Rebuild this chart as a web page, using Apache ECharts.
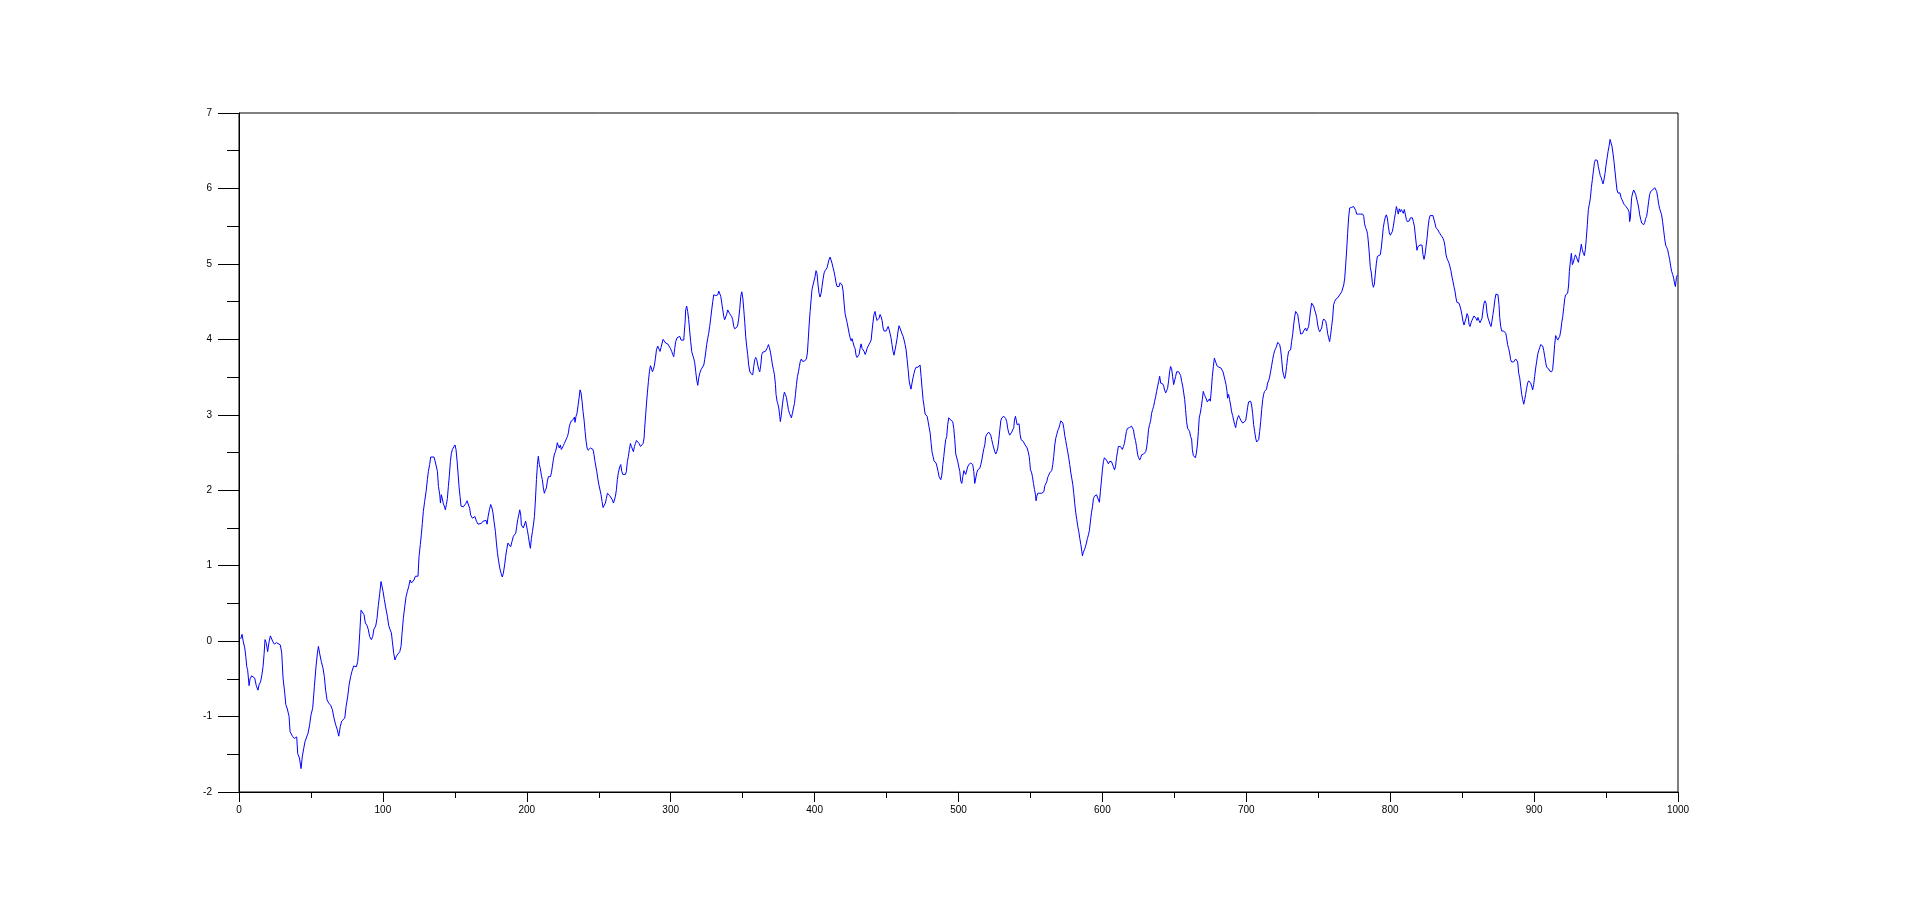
<!DOCTYPE html>
<html>
<head>
<meta charset="utf-8">
<title>random walk</title>
<script src="https://cdn.jsdelivr.net/npm/echarts@6/dist/echarts.min.js"></script>
<style>
  html, body {
    margin: 0;
    padding: 0;
    background: #ffffff;
  }
  #chart {
    width: 1918px;
    height: 906px;
  }
</style>
</head>
<body>
<div id="chart"></div>
<script>
// x positions of the read points (step number)
const steps = [
  1.2,2.1,3.0,4.0,4.7,5.4,6.0,7.0,7.7,8.8,
  10.0,10.9,12.0,13.2,13.9,15.0,15.8,16.7,17.4,18.1,
  19.0,19.9,20.9,21.8,22.7,23.6,24.6,26.0,27.3,28.7,
  29.7,30.6,31.8,32.5,33.6,34.8,35.5,37.1,38.5,39.4,
  40.1,40.8,42.0,43.1,44.0,45.0,45.9,47.0,48.0,49.1,
  50.0,51.2,52.4,53.5,54.5,55.2,56.0,57.2,58.4,59.3,
  60.2,61.2,62.3,63.7,64.9,66.0,67.2,68.4,69.3,70.4,
  71.4,72.5,73.5,74.4,75.5,76.5,77.6,78.5,79.7,80.6,
  81.6,82.5,83.2,83.9,84.8,85.7,86.9,87.8,88.9,89.9,
  90.8,92.0,92.9,93.8,95.0,95.9,96.8,97.8,98.7,99.4,
  100.1,101.0,102.0,103.1,104.0,105.0,105.9,106.6,107.5,108.4,
  109.4,110.5,111.7,112.6,113.3,114.2,115.2,116.1,117.0,117.9,
  118.9,119.8,120.7,121.6,122.6,
  // 123 - 247
  123.5,124.4,125.1,126.0,126.7,127.4,128.1,129.0,130.0,130.9,
  131.6,132.5,133.2,134.4,135.5,136.2,137.2,137.9,138.6,139.5,
  140.0,140.6,141.3,142.0,142.7,143.4,144.1,144.8,145.5,146.2,
  146.9,147.6,148.3,149.2,150.1,150.8,151.5,152.2,152.9,153.6,
  154.3,155.2,155.9,156.8,157.5,158.5,159.4,160.3,161.0,162.2,
  163.3,164.0,165.0,166.1,167.3,168.4,169.6,170.8,171.7,172.4,
  173.1,174.0,174.9,175.6,176.5,177.2,178.2,178.9,179.6,180.5,
  181.2,182.1,183.0,183.7,184.6,185.3,186.0,186.9,187.9,188.8,
  189.7,190.7,191.6,192.3,193.0,193.7,194.4,195.1,195.8,196.2,
  196.9,197.6,198.5,199.2,199.9,200.4,201.1,201.8,202.5,203.2,
  203.9,204.6,205.3,206.0,206.7,207.4,208.0,208.7,209.4,210.1,
  210.8,211.5,212.2,212.9,213.6,214.3,215.0,215.7,216.4,217.1,
  217.8,218.5,219.2,219.9,220.6,221.2,221.9,222.6,223.3,224.0,
  224.7,225.4,226.1,226.8,227.5,228.2,228.9,229.6,230.3,231.0,
  231.7,232.4,233.1,233.5,234.2,234.9,235.6,236.3,237.0,237.7,
  238.4,239.1,239.8,240.5,241.2,241.9,242.6,243.3,244.2,245.1,
  246.0,246.7,247.4,
  // 248 - 374
  248.6,249.3,250.0,250.9,251.6,252.3,253.0,253.9,254.6,255.3,
  256.0,256.7,257.6,258.6,259.5,260.2,260.9,261.6,262.3,262.9,
  263.6,264.6,265.3,266.0,266.7,267.6,268.5,269.2,269.9,270.6,
  271.3,272.0,272.7,273.4,274.1,274.8,275.5,276.2,277.1,278.0,
  279.0,279.9,280.8,281.5,281.9,282.6,283.1,283.8,284.5,285.2,
  285.9,286.6,287.3,288.0,288.7,289.4,290.1,291.0,291.9,292.6,
  293.3,294.0,294.7,295.6,296.5,297.2,297.9,298.9,299.8,300.7,
  301.4,302.1,302.8,303.5,304.4,305.3,306.3,307.2,308.1,309.1,
  309.5,310.0,310.4,311.1,311.8,312.5,313.2,313.9,314.6,315.3,
  316.0,316.7,317.4,318.1,318.8,319.5,320.2,321.1,322.0,323.0,
  323.6,324.3,325.0,325.7,326.4,327.1,327.8,328.5,329.2,329.9,
  330.6,331.3,332.0,332.7,333.4,334.1,334.8,335.5,336.2,336.9,
  337.5,338.2,338.9,339.6,340.3,341.0,341.7,342.4,343.1,343.8,
  344.5,345.2,345.9,346.6,347.3,348.0,348.7,349.4,350.1,350.8,
  351.5,352.1,352.8,353.5,354.2,354.9,355.6,356.3,357.0,357.7,
  358.4,359.1,359.8,360.5,361.2,361.9,362.6,363.3,364.0,364.9,
  365.8,366.5,367.2,367.9,368.6,369.3,370.0,370.7,371.4,372.1,
  372.8,373.2,373.9,
  // 374 - 498
  374.4,375.1,375.8,376.2,376.9,377.6,378.3,379.0,379.7,380.4,
  381.1,381.8,382.5,383.2,383.9,384.6,385.3,386.0,386.7,387.4,
  388.1,388.8,389.4,390.1,390.8,391.5,392.2,392.9,393.6,394.3,
  395.0,395.5,396.2,396.9,397.6,398.2,398.9,399.6,400.3,401.0,
  401.7,402.4,403.1,403.8,404.5,405.2,405.9,406.6,407.3,408.0,
  408.7,409.4,410.1,410.8,411.5,412.1,412.8,413.5,414.2,414.9,
  415.6,416.3,417.0,417.7,418.4,419.1,419.8,420.5,421.2,421.9,
  422.6,423.3,424.0,424.7,425.4,426.0,426.7,427.4,428.1,428.8,
  429.5,430.2,430.9,431.6,432.3,433.0,433.7,434.4,435.1,435.8,
  436.5,437.2,437.9,438.6,439.3,439.9,440.6,441.3,442.0,442.7,
  443.4,444.1,444.8,445.5,446.2,446.9,447.6,448.3,449.0,449.7,
  450.4,451.1,451.8,452.5,453.1,453.8,454.5,455.2,455.9,456.6,
  457.3,458.0,458.7,459.4,460.1,460.8,461.5,462.2,462.9,463.6,
  464.3,465.0,465.7,466.4,467.0,467.7,468.4,469.1,469.8,470.5,
  471.2,471.9,472.6,473.3,474.0,474.7,475.4,476.1,476.8,477.5,
  478.2,478.9,479.6,480.3,481.0,481.6,482.3,483.0,483.7,484.4,
  485.1,485.8,486.5,487.2,487.7,488.4,489.1,489.8,490.4,491.1,
  491.8,492.5,493.2,493.9,494.6,495.3,496.0,496.7,497.4,498.1,
  // 499 - 623
  499.5,500.2,500.9,501.6,502.3,503.0,503.7,504.4,505.0,505.7,
  506.4,507.1,507.8,508.5,509.2,509.9,510.6,511.3,512.0,512.7,
  513.4,514.1,514.8,515.5,516.2,516.9,517.6,518.3,518.9,519.6,
  520.3,521.0,521.7,522.4,523.1,523.8,524.5,525.2,525.9,526.6,
  527.3,528.0,528.7,529.4,530.1,530.8,531.5,532.2,532.8,533.5,
  534.2,534.9,535.6,536.3,537.0,537.7,538.4,538.9,539.6,540.0,
  540.7,541.4,542.1,542.8,543.5,544.2,544.9,545.6,546.3,547.0,
  547.7,548.4,549.1,549.5,550.0,550.7,551.4,552.1,552.8,553.5,
  553.9,554.4,555.1,555.8,556.5,557.2,557.9,558.6,559.3,560.0,
  560.6,561.3,562.0,562.7,563.4,564.1,564.8,565.5,566.2,566.9,
  567.6,568.3,569.0,569.7,570.4,571.1,571.8,572.5,573.2,573.8,
  574.5,575.2,575.9,576.6,577.3,578.0,578.7,579.4,580.1,580.8,
  581.5,582.2,582.9,583.6,584.3,585.0,585.7,586.1,586.8,587.5,
  588.2,588.9,589.6,590.3,591.0,591.7,592.4,593.1,593.8,594.5,
  595.2,595.9,596.5,597.2,597.9,598.6,599.3,600.0,600.7,601.4,
  602.1,602.8,603.5,604.2,604.9,605.6,606.3,607.0,607.7,608.4,
  609.1,609.8,610.5,611.1,611.8,612.5,613.2,613.9,614.6,615.3,
  616.0,616.7,617.4,618.1,618.8,619.5,620.2,620.9,621.6,622.3,
  623.0,623.7,
  // 624 - 749
  624.5,625.2,625.9,626.6,627.3,628.0,628.7,629.4,630.1,630.7,
  631.4,632.1,632.8,633.5,634.2,634.9,635.6,636.3,637.0,637.7,
  638.4,639.1,639.8,640.5,641.2,641.9,642.6,643.3,644.0,644.6,
  645.3,646.0,646.7,647.4,648.1,648.8,649.5,650.2,650.9,651.6,
  652.3,653.0,653.7,654.4,655.1,655.8,656.5,657.2,657.8,658.5,
  659.2,659.9,660.6,661.3,662.0,662.5,663.2,663.9,664.6,665.3,
  666.0,666.7,667.3,668.0,668.7,669.4,670.1,670.8,671.5,672.2,
  672.9,673.6,674.3,675.0,675.7,676.4,677.1,677.8,678.2,678.9,
  679.6,680.3,681.0,681.7,682.4,683.1,683.8,684.5,685.2,685.9,
  686.6,687.0,687.7,688.4,689.1,689.8,690.5,691.2,691.9,692.6,
  693.3,694.0,694.7,695.4,696.1,696.8,697.5,698.2,698.8,699.5,
  700.2,700.9,701.6,702.3,703.0,703.7,704.4,705.1,705.8,706.5,
  707.2,707.9,708.6,709.3,710.0,710.7,711.4,712.0,712.7,713.4,
  714.1,714.8,715.5,716.2,716.9,717.6,718.3,719.0,719.7,720.4,
  721.1,721.8,722.5,723.2,723.9,724.6,725.3,726.0,726.7,727.3,
  728.0,728.7,729.4,730.1,730.8,731.5,732.2,732.9,733.6,734.3,
  735.0,735.7,736.4,737.1,737.8,738.5,739.2,739.8,740.5,741.2,
  741.9,742.6,743.3,744.0,744.7,745.4,746.1,746.8,747.5,748.2,
  748.9,
  // 749 - 874
  749.6,750.3,751.0,751.7,752.4,753.1,753.8,754.5,755.2,755.9,
  756.5,757.2,757.9,758.6,759.3,760.0,760.7,761.4,762.1,762.8,
  763.5,764.2,764.9,765.6,766.3,767.0,767.7,768.4,769.0,769.7,
  770.4,771.1,771.8,772.5,773.2,773.9,774.6,775.3,776.0,776.7,
  777.4,778.1,778.8,779.5,780.2,780.9,781.6,782.2,782.9,783.6,
  784.3,785.0,785.7,786.2,786.9,787.6,788.3,789.0,789.7,790.4,
  791.1,791.8,792.4,793.1,793.8,794.5,795.2,795.9,796.6,797.3,
  798.0,798.7,799.4,800.1,800.8,801.5,802.2,802.9,803.6,804.3,
  805.0,805.6,806.3,807.0,807.7,808.4,809.1,809.8,810.5,811.2,
  811.9,812.6,813.3,814.0,814.7,815.4,816.1,816.8,817.5,818.2,
  818.6,819.3,820.0,820.7,821.4,822.1,822.8,823.5,824.2,824.9,
  825.6,826.3,827.0,827.7,828.3,829.0,829.7,830.4,831.1,831.8,
  832.5,833.2,833.9,834.6,835.3,836.0,836.7,837.4,838.1,838.8,
  839.5,840.2,840.9,841.6,842.2,842.9,843.6,844.3,845.0,845.7,
  846.4,847.1,847.8,848.5,849.2,849.9,850.6,851.3,852.0,852.7,
  853.4,854.1,854.8,855.5,856.2,856.8,857.5,858.2,858.9,859.6,
  860.3,861.0,861.7,862.4,863.1,863.8,864.5,865.2,865.9,866.6,
  867.3,868.0,868.7,869.4,870.1,870.7,871.4,872.1,872.8,873.5,
  // 874 - 1000
  874.2,874.9,875.6,876.1,876.8,877.5,878.2,878.9,879.6,880.3,
  880.9,881.6,882.3,883.0,883.7,884.4,885.1,885.8,886.5,887.2,
  887.9,888.6,889.3,890.0,890.7,891.4,892.1,892.8,893.5,894.1,
  894.8,895.5,896.2,896.9,897.6,898.3,899.0,899.7,900.4,901.1,
  901.8,902.5,903.2,903.9,904.6,905.3,906.0,906.7,907.4,908.1,
  908.7,909.4,910.1,910.8,911.5,912.2,912.9,913.6,914.3,915.0,
  915.7,916.4,917.1,917.8,918.5,919.2,919.9,920.6,921.3,921.9,
  922.6,923.3,924.0,924.5,925.2,925.9,926.6,927.3,928.0,928.7,
  929.4,930.1,930.8,931.4,932.1,932.8,933.5,934.2,934.9,935.6,
  936.3,937.0,937.7,938.4,939.1,939.8,940.5,941.2,941.9,942.6,
  943.3,944.0,944.6,945.3,946.0,946.7,947.4,947.9,948.6,949.3,
  950.0,950.7,951.4,952.1,952.8,953.4,954.1,954.8,955.5,956.2,
  956.9,957.6,958.3,959.0,959.7,960.4,961.1,961.8,962.5,963.2,
  963.9,964.6,965.3,966.0,966.4,966.9,967.3,967.8,968.5,969.2,
  969.9,970.6,971.3,972.0,972.7,973.4,974.1,974.8,975.5,976.2,
  976.9,977.5,978.2,978.9,979.6,980.3,981.0,981.7,982.4,983.1,
  983.8,984.5,985.2,985.9,986.6,987.3,987.9,988.6,989.3,990.0,
  990.7,991.4,992.1,992.8,993.5,994.2,994.9,995.6,996.3,997.0,
  997.7,998.2,998.9,999.5
];

// walk values, same order as steps
const walk = [
  0.03,0.09,-0.01,-0.09,-0.20,-0.34,-0.38,-0.59,-0.50,-0.46,
  -0.45,-0.49,-0.59,-0.65,-0.58,-0.54,-0.46,-0.34,-0.18,0.02,
  -0.03,-0.14,-0.01,0.07,0.06,-0.01,-0.04,-0.02,-0.04,-0.05,
  -0.16,-0.49,-0.69,-0.84,-0.90,-1.00,-1.20,-1.26,-1.29,-1.31,
  -1.27,-1.49,-1.55,-1.69,-1.53,-1.42,-1.33,-1.33,-1.22,-1.11,
  -0.98,-0.89,-0.60,-0.34,-0.16,-0.07,-0.16,-0.27,-0.36,-0.47,
  -0.65,-0.78,-0.82,-0.85,-0.91,-1.02,-1.11,-1.18,-1.26,-1.13,
  -1.06,-1.07,-1.02,-0.87,-0.74,-0.58,-0.47,-0.40,-0.33,-0.32,
  -0.34,-0.27,-0.12,0.10,0.41,0.39,0.35,0.24,0.21,0.15,
  0.06,0.02,0.06,0.16,0.20,0.30,0.47,0.63,0.79,0.81,
  0.66,0.55,0.44,0.33,0.21,0.15,0.11,-0.01,-0.16,-0.25,
  -0.20,-0.17,-0.14,-0.07,0.10,0.30,0.46,0.59,0.66,0.72,
  0.81,0.77,0.75,0.81,0.86,
  // 123 - 247
  0.86,0.86,1.12,1.28,1.41,1.56,1.72,1.85,1.98,2.14,
  2.25,2.34,2.44,2.45,2.44,2.39,2.37,2.25,2.05,1.94,
  1.83,1.94,1.89,1.82,1.79,1.74,1.81,1.89,2.05,2.20,
  2.38,2.49,2.54,2.56,2.60,2.54,2.40,2.23,2.05,1.92,
  1.79,1.81,1.78,1.76,1.82,1.86,1.84,1.76,1.67,1.63,
  1.61,1.65,1.59,1.55,1.57,1.56,1.59,1.57,1.60,1.55,
  1.65,1.74,1.81,1.78,1.70,1.59,1.45,1.30,1.17,1.05,
  0.97,0.90,0.85,0.90,1.01,1.12,1.21,1.30,1.30,1.25,
  1.32,1.39,1.41,1.43,1.52,1.61,1.67,1.74,1.67,1.54,
  1.52,1.50,1.52,1.59,1.60,1.47,1.39,1.30,1.23,1.36,
  1.45,1.54,1.65,1.87,2.14,2.34,2.45,2.34,2.29,2.20,
  2.14,2.03,1.96,2.00,2.03,2.12,2.18,2.19,2.18,2.23,
  2.32,2.41,2.48,2.51,2.56,2.63,2.59,2.56,2.60,2.54,
  2.56,2.59,2.62,2.65,2.68,2.71,2.76,2.85,2.89,2.92,
  2.93,2.94,2.97,2.90,2.98,3.02,3.12,3.22,3.33,3.29,
  3.18,3.04,2.93,2.78,2.65,2.56,2.53,2.54,2.56,2.56,
  2.54,2.47,2.38,
  // 248 - 374
  2.25,2.16,2.08,2.06,1.94,1.85,1.77,1.76,1.83,1.89,
  1.96,1.94,1.93,1.92,1.87,1.83,1.87,1.92,2.01,2.14,
  2.23,2.31,2.34,2.25,2.21,2.20,2.21,2.25,2.38,2.45,
  2.54,2.62,2.58,2.56,2.51,2.58,2.62,2.66,2.67,2.62,
  2.58,2.60,2.62,2.69,2.82,3.00,3.13,3.29,3.44,3.57,
  3.65,3.62,3.57,3.60,3.66,3.75,3.86,3.91,3.89,3.84,
  3.89,3.95,4.00,3.98,3.95,3.93,3.94,3.93,3.88,3.84,
  3.80,3.77,3.88,3.97,4.02,4.04,4.04,3.99,4.01,3.99,
  4.11,4.22,4.39,4.44,4.37,4.26,4.11,3.97,3.84,3.79,
  3.75,3.69,3.57,3.46,3.39,3.49,3.55,3.60,3.58,3.66,
  3.73,3.82,3.93,4.01,4.08,4.17,4.28,4.39,4.50,4.59,
  4.61,4.58,4.56,4.59,4.64,4.64,4.57,4.48,4.39,4.30,
  4.26,4.24,4.33,4.39,4.37,4.34,4.32,4.30,4.26,4.17,
  4.14,4.14,4.16,4.19,4.28,4.41,4.57,4.63,4.55,4.39,
  4.22,4.04,3.91,3.80,3.66,3.58,3.55,3.55,3.53,3.64,
  3.73,3.76,3.73,3.66,3.60,3.57,3.66,3.80,3.83,3.83,
  3.84,3.86,3.89,3.93,3.89,3.83,3.75,3.66,3.60,3.53,
  3.40,3.27,3.18,
  // 374 - 498
  3.15,3.09,2.98,2.91,3.00,3.13,3.23,3.30,3.27,3.23,
  3.15,3.07,3.02,3.00,2.96,3.02,3.09,3.15,3.27,3.40,
  3.51,3.57,3.64,3.71,3.74,3.71,3.69,3.71,3.73,3.74,
  3.82,3.97,4.19,4.37,4.53,4.66,4.72,4.73,4.83,4.91,
  4.87,4.72,4.61,4.56,4.61,4.70,4.80,4.88,4.91,4.92,
  4.95,5.01,5.06,5.09,5.08,5.01,4.95,4.90,4.83,4.75,
  4.70,4.69,4.70,4.75,4.77,4.72,4.64,4.48,4.34,4.28,
  4.22,4.15,4.08,4.02,3.98,4.01,3.96,3.91,3.88,3.79,
  3.76,3.74,3.80,3.88,3.94,3.88,3.86,3.84,3.80,3.83,
  3.88,3.91,3.93,3.96,3.99,4.11,4.23,4.33,4.37,4.30,
  4.25,4.24,4.28,4.33,4.30,4.25,4.15,4.11,4.13,4.11,
  4.13,4.17,4.13,4.07,4.02,3.93,3.84,3.79,3.86,3.93,
  4.01,4.11,4.18,4.17,4.11,4.07,4.04,3.99,3.93,3.86,
  3.73,3.60,3.45,3.38,3.34,3.42,3.49,3.55,3.60,3.63,
  3.63,3.63,3.64,3.66,3.51,3.35,3.20,3.11,3.01,3.00,
  2.98,2.91,2.83,2.76,2.62,2.51,2.45,2.39,2.38,2.36,
  2.31,2.25,2.18,2.16,2.14,2.20,2.34,2.45,2.56,2.67,
  2.71,2.87,2.96,2.95,2.93,2.92,2.91,2.82,2.67,2.48,
  // 499 - 623
  2.38,2.31,2.25,2.12,2.09,2.18,2.26,2.26,2.21,2.23,
  2.31,2.34,2.33,2.36,2.38,2.34,2.25,2.09,2.08,2.23,
  2.27,2.28,2.29,2.34,2.40,2.48,2.55,2.60,2.71,2.74,
  2.76,2.77,2.76,2.73,2.67,2.61,2.56,2.51,2.48,2.51,
  2.56,2.67,2.80,2.92,2.96,2.98,2.98,2.96,2.95,2.91,
  2.82,2.76,2.73,2.74,2.77,2.80,2.83,2.93,2.98,2.99,
  2.87,2.85,2.88,2.74,2.67,2.66,2.65,2.64,2.60,2.58,
  2.56,2.51,2.45,2.38,2.27,2.24,2.18,2.09,2.01,1.94,
  1.86,1.92,1.96,1.97,1.96,1.95,1.96,1.96,1.98,2.06,
  2.07,2.11,2.17,2.20,2.23,2.24,2.26,2.34,2.45,2.60,
  2.69,2.74,2.79,2.82,2.87,2.92,2.93,2.89,2.82,2.73,
  2.66,2.58,2.51,2.43,2.34,2.24,2.16,2.08,1.96,1.82,
  1.70,1.61,1.52,1.45,1.36,1.28,1.19,1.13,1.18,1.21,
  1.25,1.30,1.36,1.41,1.47,1.59,1.70,1.78,1.89,1.92,
  1.93,1.94,1.92,1.92,1.84,1.98,2.12,2.27,2.38,2.43,
  2.43,2.40,2.38,2.35,2.38,2.40,2.38,2.36,2.31,2.27,
  2.31,2.43,2.51,2.58,2.59,2.58,2.56,2.54,2.58,2.62,
  2.70,2.78,2.82,2.80,2.83,2.85,2.85,2.86,2.80,2.71,
  2.66,2.58,
  // 624 - 749
  2.47,2.43,2.40,2.43,2.47,2.49,2.48,2.49,2.51,2.56,
  2.67,2.81,2.87,2.92,3.02,3.07,3.11,3.18,3.24,3.31,
  3.38,3.44,3.51,3.42,3.42,3.41,3.38,3.32,3.29,3.29,
  3.35,3.45,3.57,3.64,3.61,3.51,3.40,3.41,3.51,3.57,
  3.57,3.57,3.57,3.52,3.44,3.38,3.29,3.20,3.07,2.91,
  2.82,2.83,2.78,2.71,2.68,2.54,2.46,2.45,2.43,2.49,
  2.60,2.78,2.96,3.02,3.10,3.20,3.31,3.27,3.24,3.21,
  3.17,3.18,3.21,3.18,3.33,3.51,3.64,3.75,3.77,3.69,
  3.65,3.64,3.63,3.61,3.62,3.61,3.57,3.55,3.46,3.40,
  3.31,3.22,3.27,3.20,3.13,3.04,2.99,2.93,2.87,2.83,
  2.91,2.96,2.99,2.96,2.93,2.91,2.89,2.88,2.87,2.92,
  3.00,3.10,3.17,3.18,3.18,3.13,3.02,2.87,2.78,2.69,
  2.64,2.64,2.67,2.78,2.91,3.07,3.20,3.27,3.31,3.32,
  3.34,3.42,3.45,3.50,3.57,3.65,3.73,3.80,3.85,3.88,
  3.91,3.96,3.95,3.93,3.86,3.73,3.58,3.52,3.48,3.53,
  3.64,3.76,3.84,3.82,3.86,3.97,4.06,4.19,4.30,4.37,
  4.38,4.33,4.24,4.15,4.07,4.05,4.08,4.11,4.13,4.15,
  4.11,4.11,4.17,4.28,4.39,4.48,4.50,4.44,4.39,4.35,
  4.29,
  // 749 - 874
  4.19,4.13,4.10,4.10,4.15,4.24,4.27,4.26,4.24,4.17,
  4.08,4.02,3.97,4.06,4.17,4.28,4.46,4.50,4.53,4.51,
  4.55,4.57,4.59,4.60,4.63,4.64,4.72,4.81,4.97,5.17,
  5.40,5.61,5.74,5.76,5.75,5.76,5.76,5.78,5.71,5.66,
  5.66,5.66,5.66,5.66,5.66,5.66,5.63,5.53,5.48,5.45,
  5.39,5.25,5.08,4.95,4.88,4.75,4.69,4.73,4.88,5.01,
  5.10,5.11,5.10,5.12,5.21,5.34,5.48,5.56,5.62,5.65,
  5.61,5.50,5.41,5.38,5.38,5.43,5.50,5.59,5.67,5.76,
  5.71,5.66,5.73,5.69,5.72,5.71,5.67,5.72,5.66,5.59,
  5.56,5.54,5.57,5.61,5.63,5.61,5.56,5.50,5.37,5.25,
  5.18,5.23,5.25,5.25,5.25,5.25,5.12,5.06,5.12,5.23,
  5.34,5.48,5.59,5.64,5.66,5.66,5.64,5.62,5.54,5.48,
  5.48,5.45,5.42,5.40,5.38,5.36,5.34,5.30,5.23,5.12,
  5.07,5.04,5.01,4.99,4.91,4.83,4.77,4.70,4.64,4.55,
  4.49,4.49,4.48,4.44,4.39,4.32,4.24,4.19,4.20,4.28,
  4.34,4.31,4.20,4.17,4.22,4.25,4.28,4.31,4.33,4.28,
  4.25,4.29,4.25,4.22,4.20,4.28,4.39,4.48,4.51,4.48,
  4.35,4.28,4.26,4.20,4.17,4.24,4.33,4.42,4.53,4.60,
  // 874 - 1000
  4.61,4.59,4.46,4.29,4.17,4.11,4.13,4.11,4.11,4.08,
  4.02,3.93,3.88,3.82,3.73,3.70,3.70,3.70,3.72,3.74,
  3.74,3.70,3.55,3.49,3.38,3.27,3.20,3.14,3.20,3.27,
  3.35,3.42,3.45,3.43,3.42,3.38,3.33,3.40,3.51,3.62,
  3.71,3.80,3.85,3.89,3.93,3.93,3.91,3.85,3.77,3.69,
  3.63,3.63,3.61,3.58,3.57,3.57,3.60,3.75,3.93,4.05,
  4.02,3.99,3.99,4.04,4.11,4.22,4.30,4.42,4.54,4.59,
  4.57,4.61,4.72,4.90,5.03,5.14,4.99,5.02,5.08,5.12,
  5.09,5.10,5.02,5.10,5.17,5.26,5.19,5.14,5.11,5.19,
  5.34,5.52,5.72,5.79,5.87,6.01,6.12,6.23,6.34,6.38,
  6.39,6.37,6.29,6.23,6.17,6.14,6.09,6.06,6.12,6.20,
  6.31,6.40,6.49,6.56,6.65,6.63,6.56,6.47,6.36,6.23,
  6.10,5.98,5.94,5.92,5.94,5.88,5.85,5.83,5.79,5.78,
  5.76,5.77,5.72,5.69,5.56,5.61,5.74,5.88,5.94,5.98,
  5.96,5.92,5.86,5.81,5.74,5.65,5.59,5.54,5.52,5.52,
  5.55,5.60,5.63,5.72,5.83,5.92,5.96,5.98,5.98,5.98,
  6.01,6.00,5.96,5.88,5.79,5.73,5.71,5.65,5.56,5.45,
  5.34,5.25,5.22,5.19,5.12,5.06,4.97,4.90,4.86,4.81,
  4.73,4.70,4.82,4.85
];

// axis ticks
const xTicks = { min: 0, max: 1000, step: 100 };
const yTicks = { min: -2, max: 7, step: 1 };

if (steps.length !== walk.length) {
  console.warn("steps / walk length mismatch", steps.length, walk.length);
}

var chartDom = document.getElementById("chart");
var myChart = echarts.init(chartDom, null, { renderer: "canvas" });

var labelFont = '"Liberation Sans", Arial, sans-serif';

// plain numbers, no thousands separator
function plainLabel(value) {
  return String(value);
}

var option = {
  animation: false,
  backgroundColor: "#ffffff",
  grid: {
    left: 239,
    right: 240,
    top: 113,
    bottom: 114,
    show: true,
    borderColor: "#000000",
    borderWidth: 1,
  },
  xAxis: {
    type: "value",
    min: xTicks.min,
    max: xTicks.max,
    interval: xTicks.step,
    axisLine: { show: true, onZero: false, lineStyle: { color: "#000000", width: 1 } },
    axisTick: { show: true, length: 10, lineStyle: { color: "#000000", width: 1 } },
    minorTick: { show: true, splitNumber: 2, length: 6, lineStyle: { color: "#000000", width: 1 } },
    splitLine: { show: false },
    axisLabel: {
      color: "#000000",
      fontSize: 10,
      fontFamily: labelFont,
      margin: 13,
      formatter: plainLabel,
    },
  },
  yAxis: {
    type: "value",
    min: yTicks.min,
    max: yTicks.max,
    interval: yTicks.step,
    axisLine: { show: true, onZero: false, lineStyle: { color: "#000000", width: 1 } },
    axisTick: { show: true, length: 21, lineStyle: { color: "#000000", width: 1 } },
    minorTick: { show: true, splitNumber: 2, length: 12, lineStyle: { color: "#000000", width: 1 } },
    splitLine: { show: false },
    axisLabel: {
      color: "#000000",
      fontSize: 10,
      fontFamily: labelFont,
      margin: 27,
      formatter: plainLabel,
    },
  },
  series: [
    {
      type: "line",
      data: steps.map(function (s, i) {
        return [s, walk[i]];
      }),
      showSymbol: false,
      symbol: "none",
      color: "#0000ff",
      lineStyle: { color: "#0000ff", width: 1 },
      z: 3,
    },
  ],
};

option && myChart.setOption(option);
</script>
</body>
</html>
